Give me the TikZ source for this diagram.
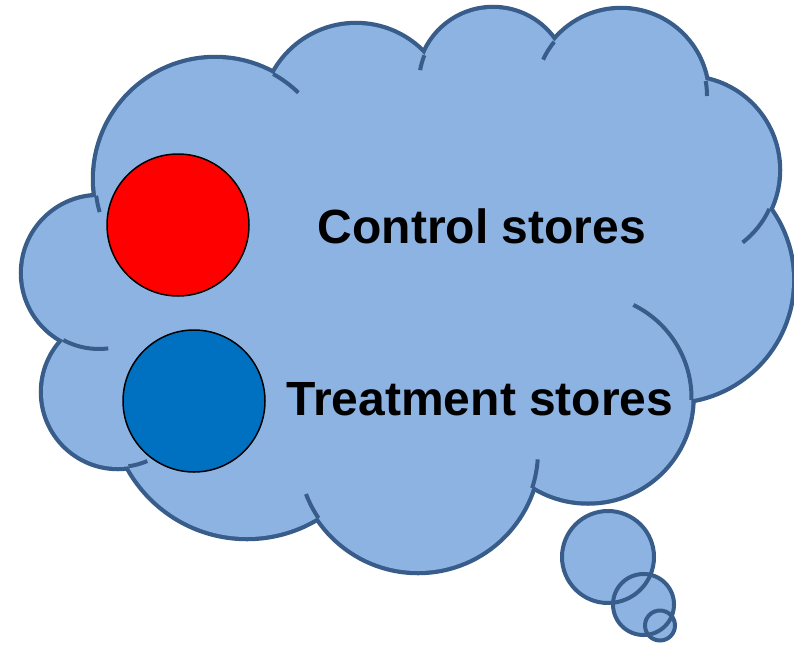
\documentclass[tikz,border=0pt]{standalone}
\usepackage{fontspec}
\setmainfont{Liberation Sans}
\usetikzlibrary{positioning}

\definecolor{cloudfill}{RGB}{141,179,226}
\definecolor{cloudedge}{RGB}{56,93,138}
\definecolor{storeblue}{RGB}{0,112,192}

% lobes of the cloud: centre x / centre y / radius
\newcommand{\cloudlobes}{215/179/120, 356/118/93, 493/83/74, 621/96/86, 686/170/92,
  671/280/121, 588/398/103.5, 418/451/120, 247/402/135, 118/392/75, 99/273/76}

\begin{document}
\begin{tikzpicture}[x=1pt, y=-1pt,
  edge_line/.style={draw=cloudedge, line width=4pt},
  store_dot/.style={circle, draw=black, line width=1.5pt, minimum size=142pt, inner sep=0pt},
  store_label/.style={font=\fontsize{48}{52}\selectfont\bfseries, inner sep=0pt}
]
\useasboundingbox (0,0) rectangle (794,645);

% Cloud outline (outer half of a double stroke stays visible)
\foreach \cx/\cy/\r in \cloudlobes
  \draw[cloudedge, line width=8.5pt] (\cx,\cy) circle[radius=\r];

% Cloud body
\foreach \cx/\cy/\r in \cloudlobes
  \fill[cloudfill] (\cx,\cy) circle[radius=\r];
\fill[cloudfill] (215,179) -- (356,118) -- (493,83) -- (621,96) -- (686,170) -- (671,280)
  -- (588,398) -- (418,451) -- (247,402) -- (118,392) -- (99,273) -- cycle;

% Inner arc ends
\foreach \cx/\cy/\r/\a/\b in {215/179/120/-61/-46, 215/179/120/172/164, 493/83/74/202/190,
    621/96/86/219/205, 621/96/86/-10/0, 686/170/92/25/52, 588/398/103.5/1/-64,
    418/451/120/18/4, 418/451/120/146/159, 118/392/75/82/67, 99/273/76/118/83}
  \draw[edge_line] (\cx,\cy) ++(\a:\r) arc[start angle=\a, end angle=\b, radius=\r];

% Thought bubbles
\foreach \cx/\cy/\r in {608/557/46, 643.5/604.5/30.5, 660/625.5/15}
  \fill[cloudfill] (\cx,\cy) circle[radius=\r];
\foreach \cx/\cy/\r in {608/557/46, 643.5/604.5/30.5, 660/625.5/15}
  \draw[edge_line] (\cx,\cy) circle[radius=\r];

% Stores
\node[store_dot, fill=red] (ctrl_dot) at (178,225) {};
\node[store_dot, fill=storeblue] (treat_dot) at (194,401) {};

\node[store_label, anchor=base] (ctrl_text) at (482,243) {Control stores};
\node[store_label, anchor=base] (treat_text) at (480,415) {Treatment stores};

\end{tikzpicture}
\end{document}
